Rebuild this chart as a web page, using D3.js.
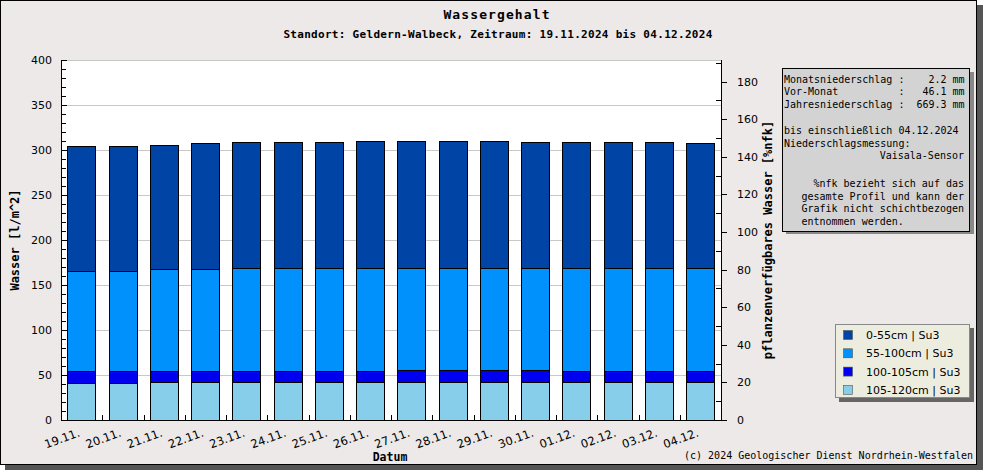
<!DOCTYPE html>
<html><head><meta charset="utf-8">
<script src="https://cdn.jsdelivr.net/npm/d3@7"></script>
<style>
html,body{margin:0;padding:0;background:#ffffff;}
svg{display:block;}
</style></head>
<body>
<svg id="c" width="995" height="470"></svg>
<script>
const dates = ["19.11.","20.11.","21.11.","22.11.","23.11.","24.11.","25.11.","26.11.","27.11.","28.11.","29.11.","30.11.","01.12.","02.12.","03.12.","04.12."];
const layer0_55 = [138.5,138.1,137.8,140.4,140.4,140.4,140.4,141.5,141.5,141.5,141.5,140.4,140.4,140.4,140.4,139.3];
const layer55_100 = [111.5,111.5,113.0,113.0,114.1,114.1,114.1,114.1,112.9,112.9,112.9,112.9,113.5,114.1,114.1,114.1];
const layer100_105 = [13.7,13.7,12.6,12.6,12.6,12.6,12.6,12.6,13.8,13.8,13.8,13.8,13.2,12.6,12.6,12.6];
const layer105_120 = [40.7,40.7,41.8,41.8,41.8,41.8,41.8,41.8,41.8,41.8,41.8,41.8,41.8,41.8,41.8,41.8];
const seriesNames = ["105-120cm | Su3","100-105cm | Su3","55-100cm | Su3","0-55cm | Su3"];
const seriesColors = ["#87ceeb","#0000f0","#0091fd","#0045a6"];
const leftTicks = [0,50,100,150,200,250,300,350,400];
const rightTicks = [0,20,40,60,80,100,120,140,160,180];
const infoLines = ["Monatsniederschlag :    2.2 mm","Vor-Monat          :   46.1 mm","Jahresniederschlag :  669.3 mm"];

const svg = d3.select("#c");
const mono = "'DejaVu Sans Mono', monospace";
const sans = "'DejaVu Sans', sans-serif";

// frame + shadow
svg.append("rect").attr("x",5).attr("y",5).attr("width",978).attr("height",470).attr("fill","#555");
svg.append("rect").attr("x",0.5).attr("y",0.5).attr("width",976).attr("height",464).attr("fill","#ece9e8").attr("stroke","#000");

const L=61, R=721, T=60, B=420;
svg.append("rect").attr("x",L).attr("y",T).attr("width",R-L).attr("height",B-T).attr("fill","#fff");

const x = d3.scaleBand().domain(dates).range([L,R]).paddingInner(0.31).paddingOuter(0.155);
const y = d3.scaleLinear().domain([0,400]).range([B,T]);
const y2 = d3.scaleLinear().domain([0,191.5]).range([B,T]);

// grid
svg.append("g").selectAll("line").data(leftTicks.filter(d=>d>0)).join("line")
  .attr("x1",L).attr("x2",R).attr("y1",d=>Math.round(y(d))+0.5).attr("y2",d=>Math.round(y(d))+0.5)
  .attr("stroke","#c8c8c8");

// stacked data
const table = dates.map((d,i)=>({date:d, a:layer105_120[i], b:layer100_105[i], c:layer55_100[i], e:layer0_55[i]}));
const stack = d3.stack().keys(["a","b","c","e"])(table);
svg.append("g").selectAll("g").data(stack).join("g").attr("fill",(d,i)=>seriesColors[i])
  .selectAll("rect").data(d=>d).join("rect")
  .attr("x",d=>Math.round(x(d.data.date))+0.5)
  .attr("width",Math.round(x.bandwidth()))
  .attr("y",d=>Math.round(y(d[1]))+0.5)
  .attr("height",d=>Math.round(y(d[0]))-Math.round(y(d[1])))
  .attr("stroke","#000").attr("stroke-width",1);

// left axis
const gl = svg.append("g");
gl.append("line").attr("x1",L+0.5).attr("x2",L+0.5).attr("y1",T).attr("y2",B+0.5).attr("stroke","#000");
gl.selectAll("line.mi").data(d3.range(0,401,10)).join("line").attr("class","mi")
  .attr("x1",L).attr("x2",d=>L+(d%50===0?6:5)).attr("y1",d=>Math.round(y(d))+0.5).attr("y2",d=>Math.round(y(d))+0.5).attr("stroke","#000");
gl.selectAll("text").data(leftTicks).join("text")
  .attr("x",52).attr("y",d=>y(d)+4).attr("text-anchor","end")
  .attr("font-family",sans).attr("font-size",11).attr("fill","#000").text(d=>d);

// right axis
const gr = svg.append("g");
gr.append("line").attr("x1",R+0.5).attr("x2",R+0.5).attr("y1",T).attr("y2",B+0.5).attr("stroke","#000");
gr.selectAll("line.mi").data(d3.range(10,191,20)).join("line").attr("class","mi")
  .attr("x1",R-5).attr("x2",R).attr("y1",d=>Math.round(y2(d))+0.5).attr("y2",d=>Math.round(y2(d))+0.5).attr("stroke","#000");
gr.selectAll("line.ma").data(rightTicks).join("line").attr("class","ma")
  .attr("x1",R).attr("x2",R+6).attr("y1",d=>Math.round(y2(d))+0.5).attr("y2",d=>Math.round(y2(d))+0.5).attr("stroke","#000");
gr.selectAll("text").data(rightTicks).join("text")
  .attr("x",737).attr("y",d=>y2(d)+4).attr("text-anchor","start")
  .attr("font-family",sans).attr("font-size",11).attr("fill","#000").text(d=>d);

// bottom axis
const gb = svg.append("g");
gb.append("line").attr("x1",L).attr("x2",R+1).attr("y1",B+0.5).attr("y2",B+0.5).attr("stroke","#000");
const step = x.step();
gb.selectAll("line.t").data(dates.slice(1)).join("line").attr("class","t")
  .attr("x1",d=>Math.round(x(d)+x.bandwidth()/2-step/2)+0.5).attr("x2",d=>Math.round(x(d)+x.bandwidth()/2-step/2)+0.5)
  .attr("y1",B).attr("y2",B-5).attr("stroke","#000");
gb.selectAll("text").data(dates).join("text")
  .attr("transform",d=>`translate(${x(d)+x.bandwidth()/2-1},436) rotate(-20)`)
  .attr("text-anchor","end").attr("font-family",sans).attr("font-size",11.5).attr("fill","#000").text(d=>d);

// titles
svg.append("text").attr("x",497).attr("y",19).attr("text-anchor","middle")
  .attr("font-family",mono).attr("font-weight","bold").attr("font-size",13).attr("letter-spacing",1.1).text("Wassergehalt");
svg.append("text").attr("x",498).attr("y",38).attr("text-anchor","middle")
  .attr("font-family",mono).attr("font-weight","bold").attr("font-size",11).attr("letter-spacing",0.3)
  .text("Standort: Geldern-Walbeck, Zeitraum: 19.11.2024 bis 04.12.2024");
svg.append("text").attr("transform","translate(19,240) rotate(-90)").attr("text-anchor","middle")
  .attr("font-family",mono).attr("font-weight","bold").attr("font-size",12).text("Wasser [l/m^2]");
svg.append("text").attr("transform","translate(772,240) rotate(-90)").attr("text-anchor","middle")
  .attr("font-family",mono).attr("font-weight","bold").attr("font-size",12).text("pflanzenverfügbares Wasser [%nfk]");
svg.append("text").attr("x",390).attr("y",461).attr("text-anchor","middle")
  .attr("font-family",mono).attr("font-weight","bold").attr("font-size",11.5).text("Datum");
svg.append("text").attr("x",973).attr("y",459).attr("text-anchor","end")
  .attr("font-family",mono).attr("font-size",10).text("(c) 2024 Geologischer Dienst Nordrhein-Westfalen");

// info box
svg.append("rect").attr("x",786).attr("y",72).attr("width",188).attr("height",162).attr("fill","#888");
svg.append("rect").attr("x",782.5).attr("y",68.5).attr("width",187).attr("height",163).attr("fill","#d3d3d3").attr("stroke","#000");
const info = svg.append("g").attr("font-family",mono).attr("font-size",10).attr("fill","#000");
infoLines.forEach((t,i)=>info.append("text").attr("x",784).attr("y",83+i*12.3).attr("xml:space","preserve").style("white-space","pre").text(t));
info.append("text").attr("x",784).attr("y",134).text("bis einschließlich 04.12.2024");
info.append("text").attr("x",784).attr("y",146.5).text("Niederschlagsmessung:");
info.append("text").attr("x",964).attr("y",159).attr("text-anchor","end").text("Vaisala-Sensor");
info.append("text").attr("x",964).attr("y",187).attr("text-anchor","end").text("%nfk bezieht sich auf das");
info.append("text").attr("x",964).attr("y",199.5).attr("text-anchor","end").text("gesamte Profil und kann der");
const g3 = info.append("text").attr("x",964).attr("y",212).attr("text-anchor","end").text("Grafik nicht schichtbezogen");
const gx = g3.node().getBBox().x;
info.append("text").attr("x",gx).attr("y",224.5).text("entnommen werden.");

// legend
svg.append("rect").attr("x",839).attr("y",328).attr("width",135).attr("height",74).attr("fill","#666");
svg.append("rect").attr("x",835.5).attr("y",324.5).attr("width",134).attr("height",73).attr("fill","#ededdf").attr("stroke","#888");
const legOrder = [3,2,1,0];
const lg = svg.append("g").selectAll("g").data(legOrder).join("g")
  .attr("transform",(d,i)=>`translate(843,${335+i*18.3})`);
lg.append("rect").attr("x",0.5).attr("y",-4.5).attr("width",9).attr("height",9).attr("fill",d=>seriesColors[d]).attr("stroke","#555").attr("stroke-width",0.6);
lg.append("text").attr("x",23).attr("y",4).attr("font-family",sans).attr("font-size",11).attr("fill","#000").text(d=>seriesNames[d]);
</script>
</body></html>
